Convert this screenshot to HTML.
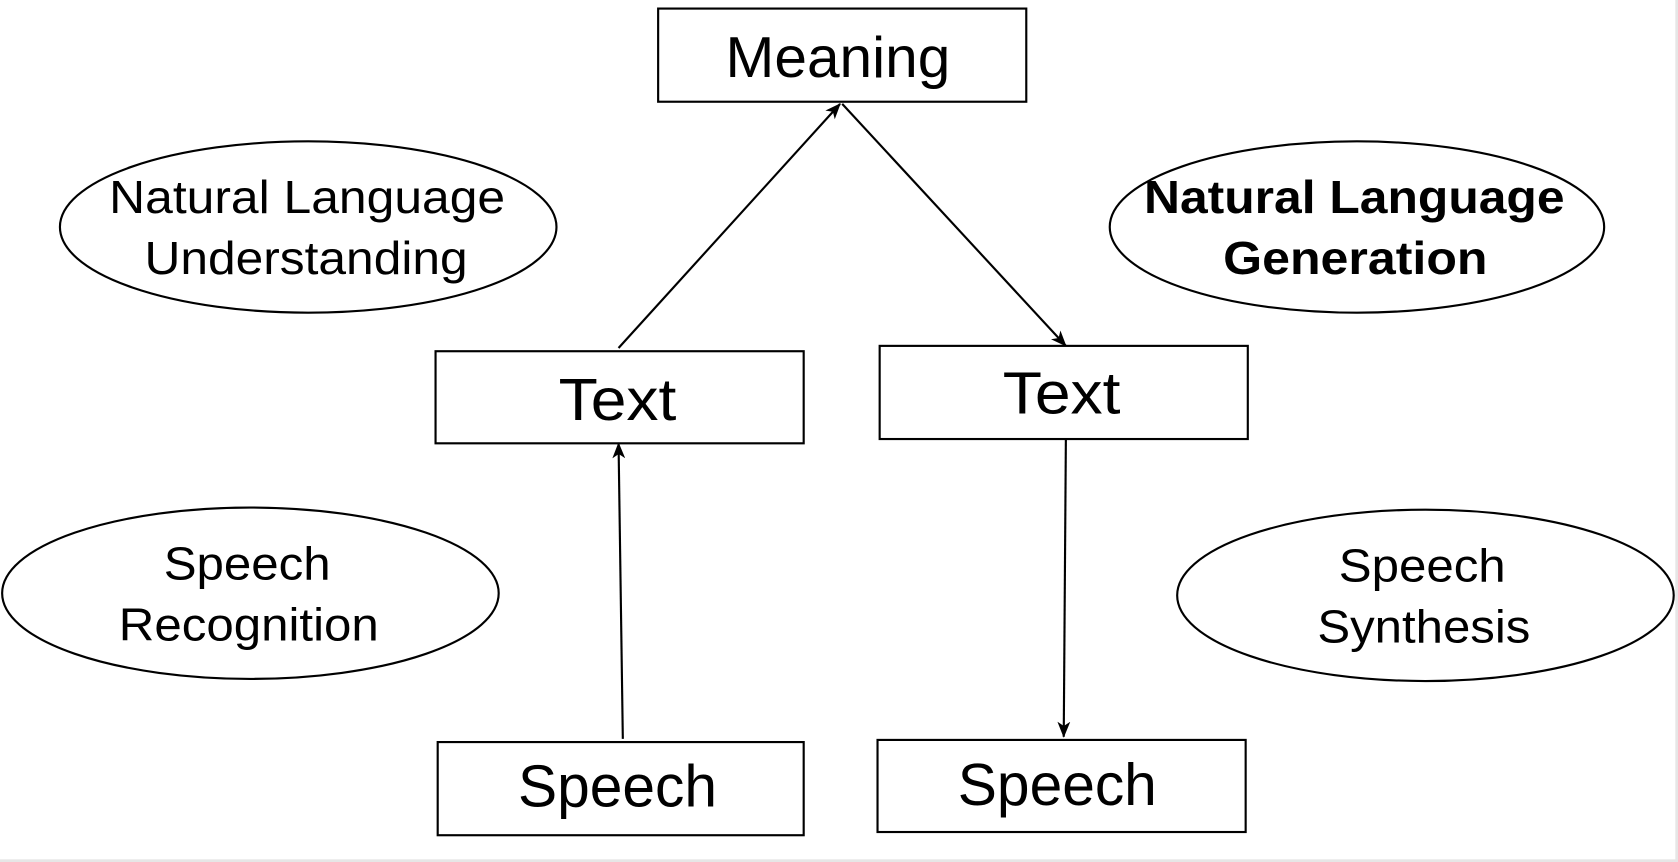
<!DOCTYPE html>
<html><head><meta charset="utf-8"><style>
html,body{margin:0;padding:0;background:#fff;}
svg{display:block;}
text{font-family:"Liberation Sans",Arial,sans-serif;fill:#000;}
</style></head><body>
<svg width="1678" height="862" viewBox="0 0 1568 805" preserveAspectRatio="none" xmlns="http://www.w3.org/2000/svg">
<defs>
<marker id="a" markerWidth="16" markerHeight="12" refX="14" refY="6" orient="auto" markerUnits="userSpaceOnUse">
<path d="M0,0 L15,6 L0,12 L4,6 Z" fill="#000"/>
</marker>
</defs>
<rect x="0" y="0" width="1568" height="805" fill="#fff"/>
<rect x="1565.5" y="0" width="2.5" height="805" fill="#e6e6e6"/>
<rect x="0" y="802.5" width="1568" height="2.5" fill="#e6e6e6"/>
<g fill="none" stroke="#000" stroke-width="2">
<rect x="615" y="8" width="344" height="87"/>
<rect x="407" y="328" width="344" height="86"/>
<rect x="822" y="323" width="344" height="87"/>
<rect x="409" y="693" width="342" height="87"/>
<rect x="820" y="691" width="344" height="86"/>
<ellipse cx="288" cy="212" rx="232" ry="80"/>
<ellipse cx="1268" cy="212" rx="231" ry="80"/>
<ellipse cx="234" cy="554" rx="232" ry="80"/>
<ellipse cx="1332" cy="556" rx="232" ry="80"/>
<line x1="578" y1="325" x2="785" y2="97" marker-end="url(#a)"/>
<line x1="787" y1="97" x2="996" y2="323" marker-end="url(#a)"/>
<line x1="582" y1="690" x2="578" y2="414" marker-end="url(#a)"/>
<line x1="996" y1="410" x2="994" y2="688" marker-end="url(#a)"/>
</g>
<g lengthAdjust="spacingAndGlyphs">
<text x="678" y="72" font-size="54" textLength="210" lengthAdjust="spacingAndGlyphs">Meaning</text>
<text x="102" y="199" font-size="43" textLength="370" lengthAdjust="spacingAndGlyphs">Natural Language</text>
<text x="135" y="256" font-size="43" textLength="302" lengthAdjust="spacingAndGlyphs">Understanding</text>
<text x="1069" y="199" font-size="43" font-weight="bold" textLength="393" lengthAdjust="spacingAndGlyphs">Natural Language</text>
<text x="1143" y="256" font-size="43" font-weight="bold" textLength="247" lengthAdjust="spacingAndGlyphs">Generation</text>
<text x="522" y="392" font-size="55" textLength="110" lengthAdjust="spacingAndGlyphs">Text</text>
<text x="937" y="386" font-size="55" textLength="110" lengthAdjust="spacingAndGlyphs">Text</text>
<text x="153" y="541" font-size="43" textLength="156" lengthAdjust="spacingAndGlyphs">Speech</text>
<text x="111" y="598" font-size="43" textLength="243" lengthAdjust="spacingAndGlyphs">Recognition</text>
<text x="1251" y="543" font-size="43" textLength="156" lengthAdjust="spacingAndGlyphs">Speech</text>
<text x="1231" y="600" font-size="43" textLength="199" lengthAdjust="spacingAndGlyphs">Synthesis</text>
<text x="484" y="753" font-size="55" textLength="186" lengthAdjust="spacingAndGlyphs">Speech</text>
<text x="895" y="752" font-size="55" textLength="186" lengthAdjust="spacingAndGlyphs">Speech</text>
</g>
</svg>
</body></html>
